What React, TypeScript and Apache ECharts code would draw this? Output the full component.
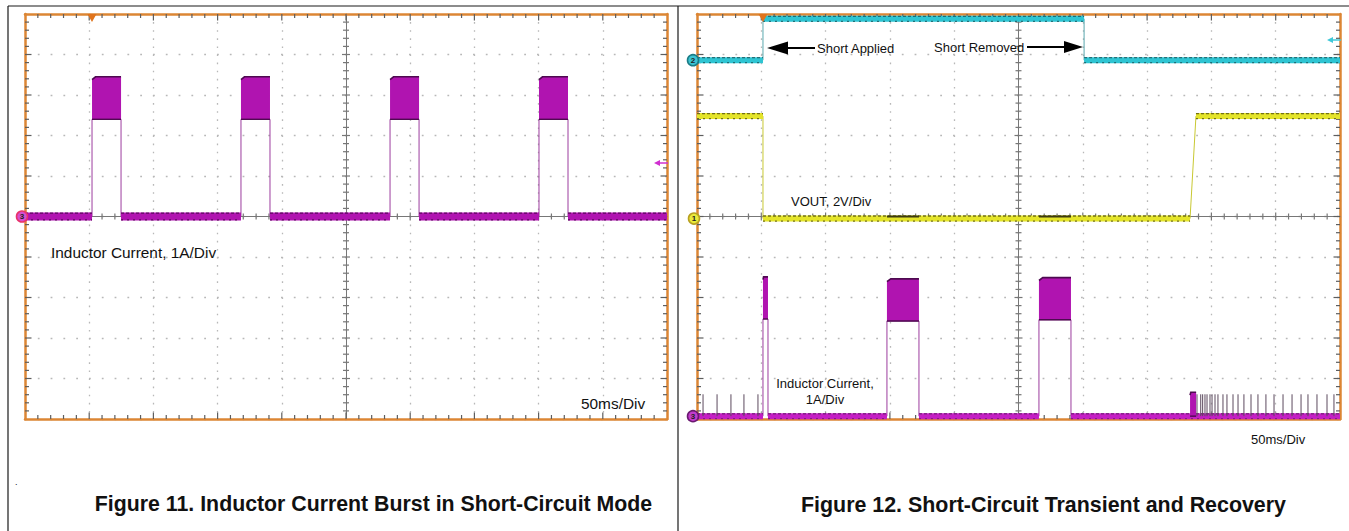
import React, { useEffect, useRef } from "react";
import * as echarts from "echarts";

// ---------- shared scope settings (time in ms, 50 ms/div; vertical in divisions) ----------
const T_MIN = 0;
const T_MAX = 500;
const T_DIV = 50;
const DIV_MIN = -5;
const DIV_MAX = 5;
const MINOR_PER_DIV = 5;

// ---------- Figure 11 : inductor current, 1 A/div, 0 A on the centre line ----------
const fig11BurstStart = [52.2, 168.2, 284.3, 400.3];
const fig11BurstEnd = [74.8, 190.8, 306.9, 422.9];
const fig11BurstLow = [2.4, 2.4, 2.4, 2.4]; // A
const fig11BurstHigh = [3.45, 3.45, 3.45, 3.45]; // A
const fig11Zero = 0; // div of 0 A
const fig11Trigger = 52.2; // ms

// ---------- Figure 12 ----------
const fig12Trigger = 51.3;
const fig12ShortApplied = 51.3;
const fig12ShortRemoved = 301.0;
const fig12Ch2Low = 3.86; // div
const fig12Ch2High = 4.88; // div
const fig12VoutHigh = 4.96; // V
const fig12VoutLow = -0.1; // V
const fig12VoutBump = 0.1; // V during bursts
const fig12VoutRiseStart = 383.4;
const fig12VoutRiseEnd = 388.0;
const fig12VoltsPerDiv = 2;
const fig12CurrentZero = -4.93; // div of 0 A
const fig12BurstStart = [51.3, 147.7, 265.9];
const fig12BurstEnd = [55.2, 172.6, 290.8];
const fig12BurstLow = [2.4, 2.35, 2.38]; // A
const fig12BurstHigh = [3.44, 3.39, 3.42]; // A
const fig12RecoveryStart = 383.4;
const fig12RecoveryEnd = 388.1;
const fig12RecoveryLevel = 0.59; // A
const fig12SpikesBefore = [4.7, 15.6, 26.4, 36.5, 47.4];
const fig12SpikesAfter = [
  388.8, 391.7, 393.2, 395.0, 396.6, 398.9, 400.5, 402.8, 405.1, 409.0, 412.1, 416.8, 420.7,
  425.3, 430.8, 436.2, 442.4, 448.7, 455.7, 462.7, 469.7, 475.1, 482.1, 489.9, 495.3,
];
const fig12SpikeHeight = 0.54; // A

// ---------- colours ----------
const ORANGE = "#dc8634";
const TICK = "#5e5e5e";
const GRIDDOT = "#b8b8b8";
const CENTER = "#777777";
const MAGENTA = "#b014b0";
const MAGENTA2 = "#c41fc4";
const MAG_DARK = "#4e0a50";
const CYAN = "#2ec4d2";
const CYAN_DARK = "#1a5f66";
const YELLOW = "#e4e42a";
const YELLOW_DARK = "#5e5a12";
const FONT = "'Liberation Sans', Arial, sans-serif";

// ---------- helpers ----------
type P = (number | string)[];

function bandSegments(pts: number[][]): P[] {
  const out: P[] = [];
  for (let i = 0; i < pts.length; i++) {
    if (i > 0 && pts[i][1] !== pts[i - 1][1]) out.push([(pts[i][0] + pts[i - 1][0]) / 2, "-"]);
    out.push(pts[i]);
  }
  return out;
}

function flatBand(level: number, starts: number[], ends: number[]): P[] {
  const out: P[] = [[T_MIN, level]];
  starts.forEach((s, i) => {
    out.push([s, level]);
    out.push([(s + ends[i]) / 2, "-"]);
    out.push([ends[i], level]);
  });
  out.push([T_MAX, level]);
  return out;
}

function burstPath(zero: number, starts: number[], ends: number[], lows: number[]): number[][] {
  const out: number[][] = [[T_MIN, zero]];
  starts.forEach((s, i) => {
    out.push([s, zero], [s, zero + lows[i]], [ends[i], zero + lows[i]], [ends[i], zero]);
  });
  out.push([T_MAX, zero]);
  return out;
}

const shift = (d: P[], dy: number): P[] => d.map((p) => [p[0], p[1] === "-" ? "-" : (p[1] as number) + dy]);

function makeAxes(gridIndex: number, halfW: number, halfH: number) {
  const xBase = {
    type: "value",
    gridIndex,
    min: T_MIN,
    max: T_MAX,
    interval: T_DIV,
    axisLabel: { show: false },
    axisTick: { show: false },
    splitLine: { show: false },
  };
  const yBase = {
    type: "value",
    gridIndex,
    min: DIV_MIN,
    max: DIV_MAX,
    interval: 1,
    axisLabel: { show: false },
    axisTick: { show: false },
    splitLine: { show: false },
  };
  const frameLine = { show: true, onZero: false, lineStyle: { color: ORANGE, width: 2.5 } };
  const cLine = { show: true, onZero: false, lineStyle: { color: CENTER, width: 1 } };
  const xAxes = [
    {
      ...xBase,
      position: "bottom",
      axisLine: frameLine,
      splitLine: { show: true, lineStyle: { color: GRIDDOT, width: 1.3, type: [1.6, 6.5] } },
    },
    { ...xBase, position: "top", axisLine: frameLine },
    { ...xBase, position: "bottom", offset: -halfH, axisLine: cLine },
  ];
  const yAxes = [
    {
      ...yBase,
      position: "left",
      axisLine: frameLine,
      splitLine: { show: true, lineStyle: { color: GRIDDOT, width: 1.3, type: [1.8, 11.0] } },
    },
    { ...yBase, position: "right", axisLine: frameLine },
    { ...yBase, position: "left", offset: -halfW, axisLine: cLine },
  ];
  return { xAxes, yAxes };
}

// graticule ticks on the frame and on the centre cross, placed through the axes
function tickSeries(axisIdx: number) {
  return {
    type: "custom",
    xAxisIndex: axisIdx,
    yAxisIndex: axisIdx,
    z: 2,
    silent: true,
    clip: false,
    data: [[(T_MIN + T_MAX) / 2, 0]],
    renderItem: (_p: any, api: any) => {
      const children: any[] = [];
      const ln = (x1: number, y1: number, x2: number, y2: number, stroke: string) =>
        children.push({ type: "line", shape: { x1, y1, x2, y2 }, style: { stroke, lineWidth: 1.2 } });
      const tMid = (T_MIN + T_MAX) / 2;
      const dMid = (DIV_MIN + DIV_MAX) / 2;
      const nT = ((T_MAX - T_MIN) / T_DIV) * MINOR_PER_DIV;
      for (let i = 1; i < nT; i++) {
        const t = T_MIN + (i * T_DIV) / MINOR_PER_DIV;
        const major = i % MINOR_PER_DIV === 0;
        const b = api.coord([t, DIV_MIN]);
        const tp = api.coord([t, DIV_MAX]);
        const c = api.coord([t, dMid]);
        const L = major ? 6.5 : 4;
        const C = major ? 4 : 3;
        ln(b[0], b[1], b[0], b[1] - L, TICK);
        ln(tp[0], tp[1], tp[0], tp[1] + L, TICK);
        ln(c[0], c[1] - C, c[0], c[1] + C, CENTER);
      }
      const nD = (DIV_MAX - DIV_MIN) * MINOR_PER_DIV;
      for (let i = 1; i < nD; i++) {
        const d = DIV_MIN + i / MINOR_PER_DIV;
        const major = i % MINOR_PER_DIV === 0;
        const l = api.coord([T_MIN, d]);
        const r = api.coord([T_MAX, d]);
        const c = api.coord([tMid, d]);
        const L = major ? 6.5 : 4;
        const C = major ? 4 : 3;
        ln(l[0], l[1], l[0] + L, l[1], TICK);
        ln(r[0], r[1], r[0] - L, r[1], TICK);
        ln(c[0] - C, c[1], c[0] + C, c[1], CENTER);
      }
      return { type: "group", children };
    },
  };
}

function burstSeries(axisIdx: number, data: number[][], fill: string) {
  return {
    type: "custom",
    xAxisIndex: axisIdx,
    yAxisIndex: axisIdx,
    z: 5,
    silent: true,
    data,
    renderItem: (_p: any, api: any) => {
      const s = api.value(0);
      const e = api.value(1);
      const lo = api.value(2);
      const hi = api.value(3);
      const dip = Math.min(0.07, (hi - lo) * 0.12);
      const p1 = api.coord([s, lo]);
      const p2 = api.coord([s, hi - dip]);
      const p3 = api.coord([s + (e - s) * 0.12, hi]);
      const p4 = api.coord([e, hi]);
      const p5 = api.coord([e, lo]);
      return {
        type: "group",
        children: [
          { type: "polygon", shape: { points: [p1, p2, p3, p4, p5] }, style: { fill } },
          { type: "polyline", shape: { points: [p2, p3, p4] }, style: { stroke: MAG_DARK, lineWidth: 1.6, fill: "none" } },
          { type: "line", shape: { x1: p1[0], y1: p1[1], x2: p5[0], y2: p5[1] }, style: { stroke: MAG_DARK, lineWidth: 1.4 } },
        ],
      };
    },
  };
}

function spikeSeries(axisIdx: number, data: number[][]) {
  return {
    type: "custom",
    xAxisIndex: axisIdx,
    yAxisIndex: axisIdx,
    z: 4,
    silent: true,
    data,
    renderItem: (_p: any, api: any) => {
      const a = api.coord([api.value(0), api.value(1)]);
      const b = api.coord([api.value(0), api.value(2)]);
      return { type: "line", shape: { x1: a[0], y1: a[1], x2: b[0], y2: b[1] }, style: { stroke: "#5c4a5e", lineWidth: 1 } };
    },
  };
}

function lineSeries(axisIdx: number, data: P[], color: string, width: number, extra: any = {}) {
  return {
    type: "line",
    xAxisIndex: axisIdx,
    yAxisIndex: axisIdx,
    data,
    symbol: "none",
    connectNulls: false,
    silent: true,
    z: 3,
    lineStyle: { color, width },
    ...extra,
  };
}

function band(axisIdx: number, data: P[], color: string, dark: string, width: number, edge: number, extra: any = {}) {
  return [
    lineSeries(axisIdx, data, color, width, extra),
    lineSeries(axisIdx, shift(data, edge), dark, 1.3, { lineStyle: { color: dark, width: 1.3, type: [3, 2], opacity: 0.85 } }),
    lineSeries(axisIdx, shift(data, -edge), dark, 1.3, { lineStyle: { color: dark, width: 1.3, type: [2, 4], opacity: 0.85 } }),
  ];
}

function channelMarker(coordX: number, coordY: number, label: string, fill: string, ring: string, dx: number) {
  return {
    coord: [coordX, coordY],
    symbol: "circle",
    symbolSize: 11,
    symbolOffset: [dx, 0],
    itemStyle: { color: fill, borderColor: ring, borderWidth: 1.6 },
    label: { show: true, position: "inside", formatter: label, fontSize: 8, fontWeight: "bold", color: "#222", fontFamily: FONT },
  };
}

function triggerMarker(t: number) {
  return {
    coord: [t, DIV_MAX],
    symbol: "triangle",
    symbolRotate: 180,
    symbolSize: [9, 8],
    symbolOffset: [0, 4],
    itemStyle: { color: "#e0741c" },
    label: { show: false },
  };
}

function buildOption() {
  const left = makeAxes(0, 321, 202.5);
  const right = makeAxes(1, 321.5, 202.5);

  // ---- Figure 11 ----
  const f11Path = burstPath(fig11Zero, fig11BurstStart, fig11BurstEnd, fig11BurstLow);
  const f11Band = flatBand(fig11Zero, fig11BurstStart, fig11BurstEnd);
  const f11Bursts = fig11BurstStart.map((s, i) => [s, fig11BurstEnd[i], fig11Zero + fig11BurstLow[i], fig11Zero + fig11BurstHigh[i]]);

  // ---- Figure 12 ----
  const ch2Path = [
    [T_MIN, fig12Ch2Low],
    [fig12ShortApplied, fig12Ch2Low],
    [fig12ShortApplied, fig12Ch2High],
    [fig12ShortRemoved, fig12Ch2High],
    [fig12ShortRemoved, fig12Ch2Low],
    [T_MAX, fig12Ch2Low],
  ];
  const hiV = fig12VoutHigh / fig12VoltsPerDiv;
  const loV = fig12VoutLow / fig12VoltsPerDiv;
  const voutPath = [
    [T_MIN, hiV],
    [fig12ShortApplied, hiV],
    [fig12ShortApplied, loV],
    [fig12VoutRiseStart, loV],
    [fig12VoutRiseEnd, hiV],
    [T_MAX, hiV],
  ];
  const bumpV = (fig12VoutLow + fig12VoutBump) / fig12VoltsPerDiv;
  const voutBumps: P[] = [];
  fig12BurstStart.slice(1).forEach((s, i) => {
    voutBumps.push([s, bumpV], [fig12BurstEnd[i + 1], bumpV], [fig12BurstEnd[i + 1] + 1, "-"]);
  });
  const curPath = burstPath(fig12CurrentZero, fig12BurstStart, fig12BurstEnd, fig12BurstLow);
  const curBand = flatBand(fig12CurrentZero, fig12BurstStart, fig12BurstEnd);
  const curBursts = fig12BurstStart.map((s, i) => [s, fig12BurstEnd[i], fig12CurrentZero + fig12BurstLow[i], fig12CurrentZero + fig12BurstHigh[i]]);
  const recovery = [[fig12RecoveryStart, fig12RecoveryEnd, fig12CurrentZero, fig12CurrentZero + fig12RecoveryLevel]];
  const spikes = [...fig12SpikesBefore, ...fig12SpikesAfter].map((t) => [t, fig12CurrentZero, fig12CurrentZero + fig12SpikeHeight]);

  const LI = 0; // left panel axis index
  const RI = 3; // right panel axis index

  const series: any[] = [
    tickSeries(LI),
    tickSeries(RI),
    // Figure 11
    lineSeries(LI, f11Path, "#9c3c9e", 1),
    ...band(LI, f11Band, MAGENTA, MAG_DARK, 8, 0.085, {
      markPoint: {
        silent: true,
        data: [channelMarker(T_MIN, fig11Zero, "3", "#d64fcf", "#e8336b", -3), triggerMarker(fig11Trigger)],
      },
    }),
    burstSeries(LI, f11Bursts, MAGENTA),

    // Figure 12
    lineSeries(RI, ch2Path, "#5aa8ae", 1),
    ...band(RI, bandSegments(ch2Path), CYAN, CYAN_DARK, 6, 0.062, {
      markPoint: {
        silent: true,
        data: [channelMarker(T_MIN, fig12Ch2Low, "2", "#3cc4d2", "#1b7c86", -4), triggerMarker(fig12Trigger)],
      },
    }),
    lineSeries(RI, voutPath, "#c8c832", 1),
    ...band(RI, bandSegments(voutPath), YELLOW, YELLOW_DARK, 6, 0.062, {
      markPoint: { silent: true, data: [channelMarker(T_MIN, fig12VoutLow / fig12VoltsPerDiv, "1", "#eaea3a", "#b8a020", -3)] },
    }),
    lineSeries(RI, voutBumps, "#3c3a10", 2),
    spikeSeries(RI, spikes),
    lineSeries(RI, curPath, "#9c3c9e", 1),
    ...band(RI, curBand, MAGENTA2, "#7a1a7e", 6, 0.06, {
      markPoint: { silent: true, data: [channelMarker(T_MIN, fig12CurrentZero, "3", "#c23ccc", "#6a1a70", -4)] },
    }),
    burstSeries(RI, curBursts, MAGENTA),
    burstSeries(RI, recovery, MAGENTA),
  ];

  const txt = (text: string, x: number, y: number, size: number, opts: any = {}) => ({
    type: "text",
    x,
    y,
    z: 100,
    silent: true,
    style: {
      text,
      fill: "#111",
      fontSize: size,
      fontFamily: FONT,
      fontWeight: opts.bold ? "bold" : "normal",
      align: opts.align || "left",
      textAlign: opts.align || "left",
      verticalAlign: "middle",
      textVerticalAlign: "middle",
    },
  });
  const seg = (x1: number, y1: number, x2: number, y2: number, stroke: string, w: number) => ({
    type: "line",
    z: 100,
    silent: true,
    shape: { x1, y1, x2, y2 },
    style: { stroke, lineWidth: w },
  });
  const head = (pts: number[][], fill: string) => ({ type: "polygon", z: 100, silent: true, shape: { points: pts }, style: { fill } });

  const graphic = [
    // page frame
    seg(8, 6, 1349, 6, "#1a1a1a", 1.2),
    seg(8, 6, 8, 531, "#1a1a1a", 1.2),
    seg(678, 6, 678, 531, "#1a1a1a", 1.2),
    txt(".", 15, 482, 9),
    // figure 11 texts
    txt("Inductor Current, 1A/Div", 51, 252, 15.4),
    txt("50ms/Div", 581, 403, 15.4),
    txt("Figure 11. Inductor Current Burst in Short-Circuit Mode", 373.5, 504, 21.3, { bold: true, align: "center" }),
    // fig 11 reference arrow
    seg(659, 163, 668, 163, "#d030d0", 1.5),
    head([[654, 163], [660, 160], [660, 166]], "#d030d0"),
    // figure 12 texts
    txt("Short Applied", 817, 48, 13),
    txt("Short Removed", 934, 47, 13),
    txt("VOUT, 2V/Div", 791, 201, 13),
    txt("Inductor Current,", 825, 383, 13, { align: "center" }),
    txt("1A/Div", 825, 399, 13, { align: "center" }),
    txt("50ms/Div", 1251, 439, 13),
    txt("Figure 12. Short-Circuit Transient and Recovery", 1043.5, 505, 21.4, { bold: true, align: "center" }),
    // Short applied arrow
    seg(786, 48, 815, 48, "#000", 2),
    head([[767, 48], [788, 41.5], [788, 54.5]], "#000"),
    // Short removed arrow
    seg(1027, 47, 1066, 47, "#000", 2),
    head([[1083, 47], [1064, 41], [1064, 53]], "#000"),
    // ch2 reference arrow
    seg(1332, 40, 1341, 40, "#40c8d8", 1.5),
    head([[1327, 40], [1333, 37], [1333, 43]], "#40c8d8"),
  ];

  return {
    animation: false,
    backgroundColor: "#ffffff",
    grid: [
      { left: 25, top: 14, width: 642, height: 405, containLabel: false, outerBoundsMode: "none" },
      { left: 697, top: 14, width: 643, height: 405, containLabel: false, outerBoundsMode: "none" },
    ],
    xAxis: [...left.xAxes, ...right.xAxes],
    yAxis: [...left.yAxes, ...right.yAxes],
    series,
    graphic,
  };
}

export default function App() {
  const ref = useRef<HTMLDivElement>(null);
  useEffect(() => {
    document.body.style.margin = "0";
    document.body.style.overflow = "hidden";
    const chart = echarts.init(ref.current!, null, { renderer: "svg" });
    chart.setOption(buildOption() as any);
    return () => chart.dispose();
  }, []);
  return <div ref={ref} style={{ width: 1349, height: 531, background: "#fff" }} />;
}
